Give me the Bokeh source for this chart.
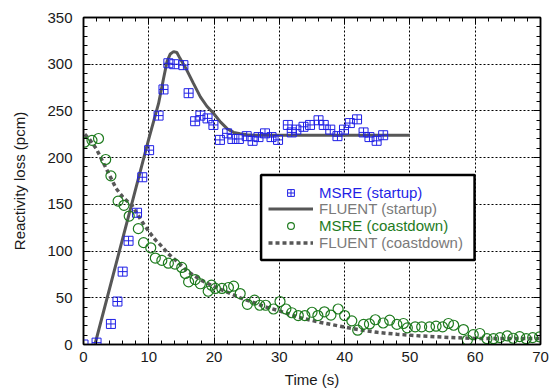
from bokeh.plotting import figure
from bokeh.models import (Range1d, LinearAxis, SingleIntervalTicker, Legend, LegendItem,
                          BoxAnnotation, CustomJSTickFormatter)
from bokeh.embed import file_html
from bokeh.resources import INLINE

# ---- data ----
startup_t = [0, 2, 4.2, 5.2, 6.0, 6.9, 8.2, 9.0, 10.05, 11.5, 12.25, 13.0, 13.9, 15.3, 16.1,
             17.1, 17.9, 19.0, 19.9, 20.9, 22.0, 22.8, 23.8, 25.0, 25.9, 26.8, 27.8, 28.8, 29.8,
             31.3, 31.9, 32.6, 33.7, 34.7, 36.0, 36.8, 37.8, 38.9, 39.9, 40.8, 41.9, 42.9, 43.8,
             44.9, 45.9]
startup_v = [0, 2, 22, 46, 78, 111, 141, 179, 208, 245, 273, 301, 300, 299, 269,
             239, 245, 242, 235, 219, 226, 220, 220, 223, 218, 222, 226, 222, 219,
             235, 227, 230, 233, 235, 240, 235, 230, 223, 230, 237, 241, 227, 222,
             218, 224]

fluent_startup_t = [1.75, 10, 11.5, 12.3, 12.8, 13.3, 13.8, 14.3, 14.8, 15.8, 16.8, 17.9, 18.9,
                    19.9, 21, 22, 23, 24, 25, 26, 50]
fluent_startup_v = [0, 220, 258, 286, 303, 311, 313.5, 312.5, 306, 294, 280, 265, 255,
                    247.5, 238, 231, 227, 225.5, 224.5, 224, 224]

coast_t = [0.15, 1.3, 2.3, 3.4, 4.2, 5.3, 6.2, 7.0, 8.4, 9.2,
           10.3, 11.0, 12.0, 13.0, 14.0, 15.05, 15.6, 16.1, 17.1, 17.9,
           19.1, 19.6, 20.2, 21.2, 22.2, 23.0, 24.0, 25.1, 26.2, 27.0,
           27.9, 29.1, 30.1, 31.0, 31.9, 32.9, 33.9, 35.0, 35.9, 36.9,
           37.9, 39.0, 40.0, 41.1, 42.0, 42.9, 43.8, 44.7, 45.9, 46.9,
           48.0, 49.0, 49.6, 50.8, 51.8, 53.0, 54.0, 55.0, 55.9, 56.7,
           58.2, 58.8, 59.7, 60.7, 61.8, 62.8, 63.8, 64.9, 65.8, 66.8,
           67.8, 68.8, 69.85]
coast_v = [216.5, 218.5, 220.5, 198, 180.5, 153.5, 149, 137.5, 124, 109,
           103.5, 92.5, 90, 87, 86, 82.5, 76, 67, 69.5, 65,
           57, 63.5, 60, 60, 61, 62.5, 54.5, 43, 47.5, 42,
           42, 38, 46, 38, 34, 31, 31, 34.5, 31, 35,
           31.5, 38, 31, 25.3, 15.3, 21.5, 22, 26.5, 23, 26,
           21.5, 22.5, 17.8, 18.9, 18.9, 18.9, 19.6, 18.9, 22.5, 20.6,
           16, 4.8, 10.5, 11.8, 6.2, 6.2, 7.4, 9.2, 6.7, 8.4,
           6.2, 7.4, 8.2]

fluent_coast_t = [0.2, 1, 2, 3, 4, 5, 6, 7.5, 9, 10, 11, 12, 13, 14, 16, 18, 20, 22, 24, 26,
                  28, 30, 33, 36, 39, 42, 45, 48, 52, 56, 60, 65, 70]
fluent_coast_v = [225, 219, 209, 195, 181, 167, 158, 148, 131, 121, 112, 105, 97, 91, 78, 69,
                  62, 56, 50, 45, 40, 36, 29, 24, 20, 16, 13, 11, 9, 7.5, 6.5, 6.5, 6.5]

labels = ["MSRE (startup)", "FLUENT (startup)", "MSRE (coastdown)", "FLUENT (coastdown)"]

FONT = "Liberation Sans"
BLUE = "#1f1fe6"
GREEN = "#1e7b1e"
GRAY = "#575757"
GRAYTXT = "#7a7a7a"

p = figure(width=550, height=391, x_range=Range1d(0, 70), y_range=Range1d(0, 350),
           output_backend="svg", toolbar_location=None,
           min_border_left=83, min_border_right=10, min_border_top=17, min_border_bottom=47)

bottom_ax = p.xaxis[0]
left_ax = p.yaxis[0]

xt = SingleIntervalTicker(interval=10, num_minor_ticks=5)
yt = SingleIntervalTicker(interval=50, num_minor_ticks=5)
bottom_ax.ticker = xt
left_ax.ticker = yt
p.xgrid.ticker = xt
p.ygrid.ticker = yt

for g in (p.xgrid, p.ygrid):
    g.grid_line_color = "black"
    g.grid_line_dash = "2 2"
    g.grid_line_width = 1

p.outline_line_color = "black"
p.outline_line_width = 1.5

top_ax = LinearAxis(ticker=xt, formatter=CustomJSTickFormatter(code="return ''"))
right_ax = LinearAxis(ticker=yt, formatter=CustomJSTickFormatter(code="return ''"))
p.add_layout(top_ax, "above")
p.add_layout(right_ax, "right")

for ax in (bottom_ax, left_ax, top_ax, right_ax):
    ax.major_tick_in = 7
    ax.major_tick_out = 0
    ax.minor_tick_in = 4
    ax.minor_tick_out = 0
    ax.axis_line_width = 1.5
    ax.axis_line_color = "black"
    ax.major_tick_line_color = "black"
    ax.minor_tick_line_color = "black"
    ax.major_label_text_font = FONT
    ax.major_label_text_font_size = "15px"
    ax.major_label_text_color = "#1a1a1a"
    ax.axis_label_text_font = FONT
    ax.axis_label_text_font_size = "15px"
    ax.axis_label_text_font_style = "normal"
    ax.axis_label_text_color = "#1a1a1a"

for ax in (top_ax, right_ax):
    ax.major_label_text_font_size = "0px"
    ax.major_label_standoff = 0

bottom_ax.axis_label = "Time (s)"
bottom_ax.major_label_standoff = 7
bottom_ax.axis_label_standoff = 6
left_ax.axis_label = "Reactivity loss (pcm)"
left_ax.major_label_standoff = 11
left_ax.axis_label_standoff = 16

r_fs = p.line(fluent_startup_t, fluent_startup_v, line_color=GRAY, line_width=3)
r_fc = p.line(fluent_coast_t, fluent_coast_v, line_color=GRAY, line_width=3.5, line_dash="4 3")
r_ms = p.scatter(startup_t, startup_v, marker="square_cross", size=9, line_color=BLUE,
                 fill_color=None, line_width=1)
r_mc = p.scatter(coast_t, coast_v, marker="circle", size=10, line_color=GREEN,
                 fill_color=None, line_width=1.2)

# legend frame
p.add_layout(BoxAnnotation(left=27.2, right=59.9, bottom=90.5, top=181.5,
                           fill_color="white", fill_alpha=1.0,
                           line_color="black", line_alpha=1.0, line_width=2.5))

entries = [(r_ms, labels[0], BLUE, 143.5),
           (r_fs, labels[1], GRAYTXT, 126.8),
           (r_mc, labels[2], GREEN, 110.1),
           (r_fc, labels[3], GRAYTXT, 93.4)]
for rend, lab, col, bottom in entries:
    leg = Legend(items=[LegendItem(label=lab, renderers=[rend])], location=(185, bottom),
                 border_line_color=None, background_fill_alpha=0, padding=0, margin=0,
                 spacing=0, glyph_width=45, glyph_height=17, label_height=17,
                 label_standoff=6, label_text_font=FONT, label_text_font_size="15px",
                 label_text_color=col)
    p.add_layout(leg, "center")

open("out.html", "w").write(file_html(p, INLINE))
